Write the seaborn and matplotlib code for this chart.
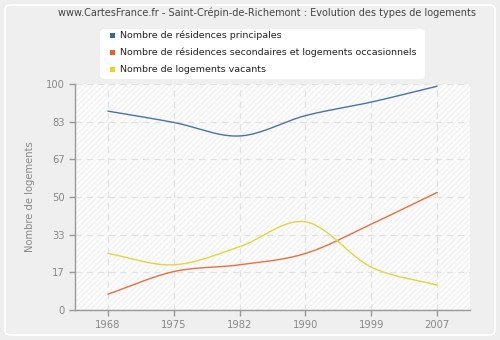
import numpy as np
import pandas as pd
import matplotlib
matplotlib.use("Agg")
import matplotlib.pyplot as plt
import seaborn as sns
from matplotlib.patches import FancyBboxPatch, Rectangle

years = ["1968", "1975", "1982", "1990", "1999", "2007"]
principales = [88, 83, 77, 86, 92, 99]
secondaires = [7, 17, 20, 25, 38, 52]
vacants = [25, 20, 28, 39, 19, 11]
series_names = ["Nombre de résidences principales",
                "Nombre de résidences secondaires et logements occasionnels",
                "Nombre de logements vacants"]
colors = ["#4a72a8", "#e8703f", "#e2d640"]
legend_colors = ["#3a67a0", "#e2612c", "#e2d626"]
yticks = [0, 17, 33, 50, 67, 83, 100]


def smooth(vals, n=30):
    # Catmull-Rom display smoothing of the series through its points
    y = np.asarray(vals, float)
    x = np.arange(len(y), dtype=float)
    m = np.gradient(y, x)
    xs, ys = [], []
    for i in range(len(y) - 1):
        t = np.linspace(0, 1, n, endpoint=(i == len(y) - 2))
        h00 = 2 * t**3 - 3 * t**2 + 1
        h10 = t**3 - 2 * t**2 + t
        h01 = -2 * t**3 + 3 * t**2
        h11 = t**3 - t**2
        xs.append(x[i] + t)
        ys.append(h00 * y[i] + h10 * m[i] + h01 * y[i + 1] + h11 * m[i + 1])
    return np.concatenate(xs), np.concatenate(ys)


rows = []
for name, vals in zip(series_names, [principales, secondaires, vacants]):
    xs, ys = smooth(vals)
    rows.append(pd.DataFrame({"x": xs, "y": ys, "serie": name}))
df = pd.concat(rows, ignore_index=True)

sns.set_theme(style="white")
plt.rcParams["font.family"] = ["DejaVu Sans"]

fig = plt.figure(figsize=(5, 3.4), dpi=100)
fig.patch.set_facecolor("#eeeeee")
# outer panel
panel = FancyBboxPatch((5 / 500, 5 / 340), 490 / 500, 330 / 340,
                       boxstyle="round,pad=0,rounding_size=0.012",
                       transform=fig.transFigure, facecolor="#efefef",
                       edgecolor="white", linewidth=1.2, zorder=-5)
fig.patches.append(panel)

ax = fig.add_axes([75 / 500, 1 - 310 / 340, 395 / 500, 226 / 340])
ax.set_zorder(2)
ax.set_facecolor("#fdfdfd")
ax.add_patch(Rectangle((0, 0), 1, 1, transform=ax.transAxes, facecolor="none",
                       edgecolor="#f2f2f2", hatch="//////", linewidth=0, zorder=0))

sns.lineplot(data=df, x="x", y="y", hue="serie", palette=colors, ax=ax,
             linewidth=1.0, legend=False, sort=False, estimator=None)

ax.set_xlim(-0.5, 5.5)
ax.set_ylim(0, 100)
ax.set_xticks(range(len(years)))
ax.set_xticklabels(years)
ax.set_yticks(yticks)
ax.set_yticklabels([str(v) for v in yticks])
ax.grid(True, color="#e2e2e2", linestyle=(0, (5, 4)), linewidth=0.9)
ax.set_axisbelow(True)
for s in ["top", "right"]:
    ax.spines[s].set_visible(False)
for s in ["left", "bottom"]:
    ax.spines[s].set_color("#999999")
    ax.spines[s].set_linewidth(1.0)
ax.tick_params(axis="both", colors="#999999", labelcolor="#888888",
               labelsize=7.2, length=4, width=1, direction="out", bottom=True, left=True)
ax.set_xlabel("")
ax.set_ylabel("Nombre de logements", color="#888888", fontsize=7.2, labelpad=8)

fig.text(267 / 500, 1 - 13 / 340,
         "www.CartesFrance.fr - Saint-Crépin-de-Richemont : Evolution des types de logements",
         ha="center", va="center", fontsize=7.0, color="#444444")

# legend box
lb = FancyBboxPatch((100 / 500, 1 - 79 / 340), 325 / 500, 50 / 340,
                    boxstyle="round,pad=0,rounding_size=0.012",
                    transform=fig.transFigure, facecolor="white",
                    edgecolor="none", zorder=3)
fig.patches.append(lb)
for i, (name, c) in enumerate(zip(series_names, legend_colors)):
    yy = 1 - (35 + i * 17) / 340
    fig.patches.append(Rectangle((110 / 500, yy - 2.5 / 340), 5 / 500, 5 / 340,
                                 transform=fig.transFigure, facecolor=c,
                                 edgecolor="none", zorder=4))
    fig.text(120 / 500, yy, name, ha="left", va="center", fontsize=6.8,
             color="#222222", zorder=5)

fig.savefig("out.png", dpi=100, facecolor=fig.get_facecolor())
